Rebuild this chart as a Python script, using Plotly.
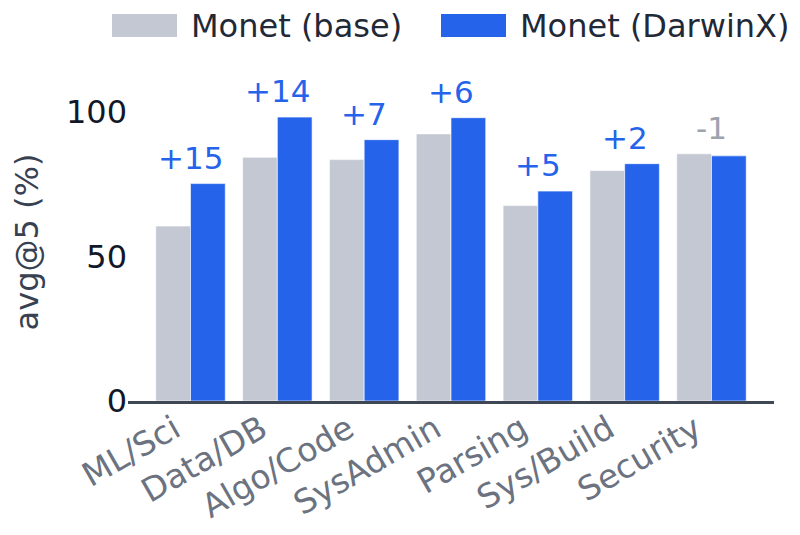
import plotly.graph_objects as go

categories = ["ML/Sci", "Data/DB", "Algo/Code", "SysAdmin", "Parsing", "Sys/Build", "Security"]
base_scores = [60.5, 84.3, 83.5, 92.4, 67.6, 79.7, 85.5]
darwinx_scores = [75.2, 98.2, 90.4, 98.0, 72.6, 82.1, 84.8]
series_names = ["Monet (base)", "Monet (DarwinX)"]
y_ticks = [0, 50, 100]

BASE_COLOR = "#c3c8d3"
DX_COLOR = "#2563eb"
FONT = "DejaVu Sans"

# the page adds an 8px body margin, so the figure is drawn offset by 8px
OFF = 8
W, H = 800, 535
PLOT_L, PLOT_R, PLOT_T, PLOT_B = 128, 774, 83, 401  # wanted screen pixels
M_L, M_T = PLOT_L - OFF, PLOT_T - OFF
M_R, M_B = W - (PLOT_R - OFF), H - (PLOT_B - OFF)
PW, PH = PLOT_R - PLOT_L, PLOT_B - PLOT_T


def px_x(x):
    return (x - PLOT_L) / PW


def px_y(y):
    return (PLOT_B - y) / PH


fig = go.Figure()
for name, vals, color in [(series_names[0], base_scores, BASE_COLOR),
                          (series_names[1], darwinx_scores, DX_COLOR)]:
    fig.add_trace(go.Bar(
        x=categories, y=vals, name=name,
        marker=dict(color=color, line=dict(color="rgba(255,255,255,0.6)", width=1)),
        showlegend=False,
    ))

# delta labels above each group
for cat, b, d in zip(categories, base_scores, darwinx_scores):
    delta = round(d - b)
    txt = f"+{delta}" if delta >= 0 else f"{delta}"
    fig.add_annotation(
        x=cat, y=max(b, d), text=txt, showarrow=False,
        yanchor="bottom", yshift=6,
        font=dict(family=FONT, size=31, color=DX_COLOR if delta >= 0 else "#9ca3af"),
    )

# legend drawn by hand so the swatches match the wide blocks
legend_items = [(series_names[0], BASE_COLOR, 112), (series_names[1], DX_COLOR, 441)]
for name, color, x0 in legend_items:
    fig.add_shape(type="rect", xref="paper", yref="paper",
                  x0=px_x(x0), x1=px_x(x0 + 65), y0=px_y(37), y1=px_y(14),
                  fillcolor=color, line=dict(width=0))
    fig.add_annotation(xref="paper", yref="paper", x=px_x(x0 + 79), y=px_y(26),
                       text=name, showarrow=False, xanchor="left", yanchor="middle",
                       xshift=-2, font=dict(family=FONT, size=32, color="#1f2937"))

fig.update_layout(
    width=W, height=H,
    margin=dict(l=M_L, r=M_R, t=M_T, b=M_B),
    barmode="group", bargap=0.2, bargroupgap=0,
    plot_bgcolor="white", paper_bgcolor="white",
    font=dict(family=FONT),
    showlegend=False,
    xaxis=dict(
        range=[-0.72, 6.72], tickangle=-30, automargin=False,
        tickfont=dict(family=FONT, size=33, color="#6b7280"),
        ticklabelshift=-16, ticklabelstandoff=-7,
        showline=True, linecolor="#3f4654", linewidth=3,
        showgrid=False, ticks="",
    ),
    yaxis=dict(
        range=[0, 110], tickvals=y_ticks, automargin=False,
        tickfont=dict(family=FONT, size=32, color="#111827"),
        showgrid=False, zeroline=False, showline=False, ticks="",
        title=dict(text="avg@5 (%)", font=dict(family=FONT, size=32, color="#374151"), standoff=18),
    ),
)

fig.write_html("out.html")
